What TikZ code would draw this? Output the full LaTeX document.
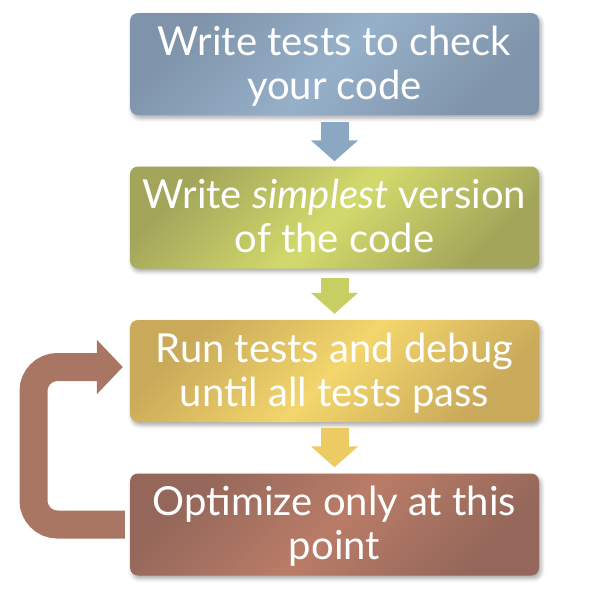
\documentclass[tikz,border=0pt]{standalone}
\usepackage{fontspec}
\setmainfont{Lato}
\usetikzlibrary{calc,arrows.meta,shadows.blur}
\definecolor{bdark}{HTML}{7F94AA}
\definecolor{blight}{HTML}{96B0C9}
\definecolor{gdark}{HTML}{A3A65A}
\definecolor{glight}{HTML}{D3DA6C}
\definecolor{ydark}{HTML}{C9A95A}
\definecolor{ylight}{HTML}{F3D66C}
\definecolor{rdark}{HTML}{94675A}
\definecolor{rlight}{HTML}{B97C67}
\definecolor{barrow}{HTML}{8CA7C2}
\definecolor{garrow}{HTML}{C7CF62}
\definecolor{yarrow}{HTML}{EBCB62}
\definecolor{uarrow}{HTML}{AA7664}
\tikzset{
  stepbox/.style={rounded corners=8pt, minimum width=409pt, minimum height=102pt,
    inner sep=0pt, align=center, text=white, text height=78pt, text depth=8pt,
    font=\fontsize{40}{44}\selectfont,
    blur shadow={shadow xshift=2pt, shadow yshift=-3pt, shadow blur radius=4pt, shadow opacity=35}},
  grad/.style n args={2}{top color=#1, bottom color=#1, middle color=#2, shading angle=45},
  downarrow/.style={line width=28pt, -{Triangle[width=46pt,length=21pt]}, draw=#1},
}
\begin{document}
\begin{tikzpicture}[x=1pt,y=-1pt]
\useasboundingbox (0,0) rectangle (597,598);
\node[stepbox, grad={bdark}{blight}] (b1) at (334.5,64) {Write tests to check\\your code};
\node[stepbox, grad={gdark}{glight}] (b2) at (334.5,217.5) {Write \textit{simplest} version\\of the code};
\node[stepbox, grad={ydark}{ylight}] (b3) at (334.5,371) {Run tests and debug\\until all tests pass};
\node[stepbox, grad={rdark}{rlight}] (b4) at (334.5,524.5) {Optimize only at this\\point};
\draw[downarrow=barrow] ($(b1.south)+(0,7)$) -- ($(b2.north)+(0,-5)$);
\draw[downarrow=garrow] ($(b2.south)+(0,9)$) -- ($(b3.north)+(0,-6)$);
\draw[downarrow=yarrow] ($(b3.south)+(0,6)$) -- ($(b4.north)+(0,-6)$);
\coordinate (ucorner1) at (33.5,524.5);
\coordinate (ucorner2) at (33.5,367);
\draw[uarrow, line width=28pt, rounded corners=24pt, -{Triangle[width=53pt,length=26pt]}]
  ($(b4.west)+(-5,0)$) -- (ucorner1) -- (ucorner2) -- ($(b3.west)+(-7,-4)$);
\end{tikzpicture}
\end{document}
